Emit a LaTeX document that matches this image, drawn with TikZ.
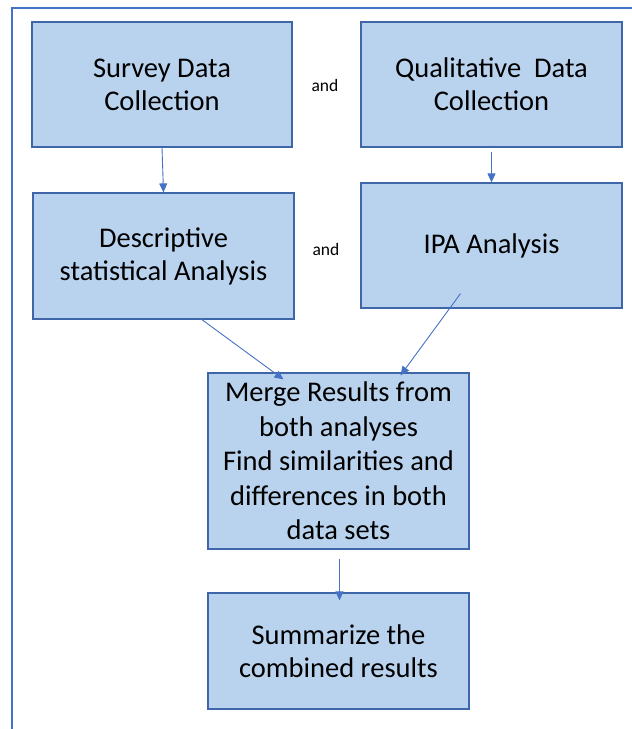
\documentclass[tikz,border=0pt]{standalone}
\usepackage{fontspec}
\setmainfont{Carlito}
\usetikzlibrary{arrows.meta,calc}

\definecolor{boxfill}{HTML}{B9D3EE}
\definecolor{boxline}{HTML}{3F66A8}
\definecolor{arrowblue}{HTML}{4472C4}

\begin{document}
\begin{tikzpicture}[x=1pt,y=-1pt,
        box/.style={draw=boxline,line width=1.2pt,fill=boxfill,align=center,inner sep=0pt,
                    font=\fontsize{28.5}{33}\selectfont},
        andlabel/.style={font=\fontsize{17.5}{20}\selectfont},
        arr/.style={draw=arrowblue,line width=0.9pt,-{Triangle[length=9pt,width=8pt]}}]

    \useasboundingbox (0,0) rectangle (632,729);
    % frame of the screenshot
    \draw[arrowblue,line width=2pt] (12,729) -- (12,8) -- (632,8);

    % collection
    \node[box,minimum width=260pt,minimum height=125pt] (survey) at (162,84.5) {Survey Data\\Collection};
    \node[box,minimum width=261pt,minimum height=125pt] (qual) at (491.5,84.5) {Qualitative\ \ Data\\Collection};
    \node[andlabel] (and1) at (325,85) {and};

    % analysis
    \node[box,minimum width=261pt,minimum height=126pt] (descr) at (163.5,256) {Descriptive\\statistical Analysis};
    \node[box,minimum width=261pt,minimum height=125pt] (ipa) at (491.5,245.5) {IPA Analysis};
    \node[andlabel] (and2) at (326,249) {and};

    % merging
    \node[box,minimum width=261pt,minimum height=176pt,font=\fontsize{28.5}{34.5}\selectfont] (merge) at (338.5,461)
        {Merge Results from\\both analyses\\Find similarities and\\differences in both\\data sets};
    \node[box,minimum width=261pt,minimum height=116pt] (summ) at (338.5,651) {Summarize the\\combined results};

    \draw[arr] (survey.south) -- (descr.north);
    \draw[arr] ($(qual.south)+(0,4)$) -- (ipa.north);
    \draw[arr] ($(descr.south)+(37,-1)$) -- ($(merge.north)+(-55,7)$);
    \draw[arr] ($(ipa.south)+(-31,-15)$) -- ($(merge.north)+(62,3)$);
    \draw[arr] ($(merge.south)+(1,9)$) -- ($(summ.north)+(1,8)$);
\end{tikzpicture}
\end{document}
